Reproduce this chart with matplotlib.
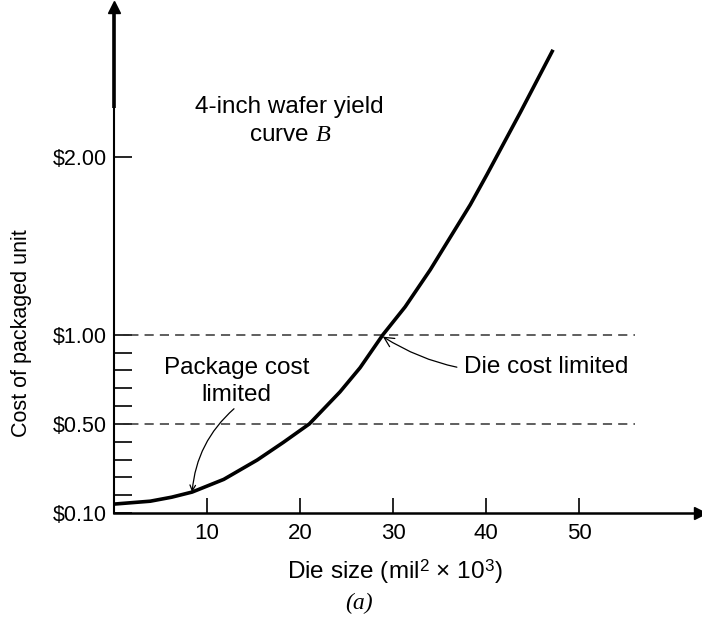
import numpy as np
import matplotlib
matplotlib.use("Agg")
from matplotlib import pyplot as plt
from matplotlib.scale import FuncScale

plt.rcParams['font.family'] = ['Liberation Sans', 'DejaVu Sans']
plt.rcParams['mathtext.fontset'] = 'custom'
plt.rcParams['mathtext.rm'] = 'Liberation Sans'
plt.rcParams['mathtext.it'] = 'Liberation Serif:italic'

# curve (die size in mil^2 x 10^3, cost in $)
die_size = [0, 3.9, 6.2, 8.4, 11.8, 15.4, 18.2, 21.0, 24.3, 26.45, 28.9, 31.3,
            34.0, 38.3, 40.1, 43.7, 47.2]
cost = [0.14, 0.153, 0.171, 0.194, 0.251, 0.338, 0.417, 0.50, 0.68, 0.815, 1.0,
        1.157, 1.365, 1.73, 1.90, 2.25, 2.60]

x_ticks = [10, 20, 30, 40, 50]
y_ticks = [0.10, 0.50, 1.00, 2.00]
y_labels = [r'\$0.10', r'\$0.50', r'\$1.00', r'\$2.00']
y_minor = [0.18, 0.26, 0.34, 0.42, 0.6, 0.7, 0.8, 0.9]
ref_levels = [0.50, 1.00]


# the y axis of the figure is stretched below $0.50
def fwd(v):
    v = np.asarray(v, dtype=float)
    return np.where(v < 0.5, (v - 0.1) / 0.08, v * 10)


def inv(p):
    p = np.asarray(p, dtype=float)
    return np.where(p < 5, 0.1 + 0.08 * p, p / 10)


W, H = 702, 619
fig = plt.figure(figsize=(W / 100, H / 100), dpi=100)
ax = fig.add_axes([114 / W, 106 / H, 586 / W, 506 / H])
ax.set_yscale(FuncScale(ax, (fwd, inv)))
ax.set_xlim(0, 63)
ax.set_ylim(0.1, 2.84)

for lev in ref_levels:
    ax.plot([0, 56], [lev, lev], color='#333333', lw=1.1, dashes=(6, 4))

ax.plot(die_size, cost, color='black', lw=2.6, solid_capstyle='butt',
        solid_joinstyle='round')

for s in ['top', 'right']:
    ax.spines[s].set_visible(False)
ax.spines['left'].set_linewidth(1.5)
ax.spines['bottom'].set_linewidth(1.8)
ax.plot(1, 0, '>k', ms=8, transform=ax.transAxes, clip_on=False)
ax.plot(0, 1, '^k', ms=8, transform=ax.transAxes, clip_on=False)
# upper part of the y axis is drawn heavier
ax.plot([0, 0], [0.8, 1.0], color='black', lw=2.6, transform=ax.transAxes,
        clip_on=False, solid_capstyle='butt')

ax.set_xticks(x_ticks)
ax.set_xticklabels([str(t) for t in x_ticks])
ax.set_yticks(y_ticks)
ax.set_yticklabels(y_labels)
ax.set_yticks(y_minor, minor=True)
ax.tick_params(axis='both', which='both', direction='in', width=1.2, labelsize=15.5)
ax.tick_params(axis='y', which='both', length=13, pad=5)
ax.tick_params(axis='x', length=11, pad=7)
for lab in ax.get_xticklabels():
    lab.set_fontsize(16)

fig.text(22 / W, 1 - 333 / H, 'Cost of packaged unit', rotation=90,
         ha='center', va='center', fontsize=15.5)
fig.text(395 / W, 1 - 572 / H, r'Die size (mil$^2$ × 10$^3$)',
         ha='center', va='center', fontsize=17.5)
fig.text(359 / W, 1 - 603 / H, '(a)', ha='center', va='center', fontsize=17,
         family='Liberation Serif', style='italic')

ax.text(18.9, 2.2, '4-inch wafer yield\ncurve $B$', ha='center', va='center',
        fontsize=17.5, linespacing=1.35)

ax.text(13.2, 0.74, 'Package cost\nlimited', ha='center', va='center',
        fontsize=17.5, linespacing=1.3)
ax.annotate('', xy=(8.4, 0.194), xytext=(12.9, 0.585),
            arrowprops=dict(arrowstyle='->', lw=0.9, color='black',
                            shrinkA=0, shrinkB=0,
                            connectionstyle='arc3,rad=0.2'))
ax.annotate('Die cost limited', xy=(28.9, 0.99), xytext=(37.6, 0.82),
            ha='left', va='center', fontsize=17.5,
            arrowprops=dict(arrowstyle='->', lw=0.9, color='black',
                            shrinkA=3, shrinkB=0,
                            connectionstyle='arc3,rad=-0.2'))

fig.savefig('out.png', dpi=100)
